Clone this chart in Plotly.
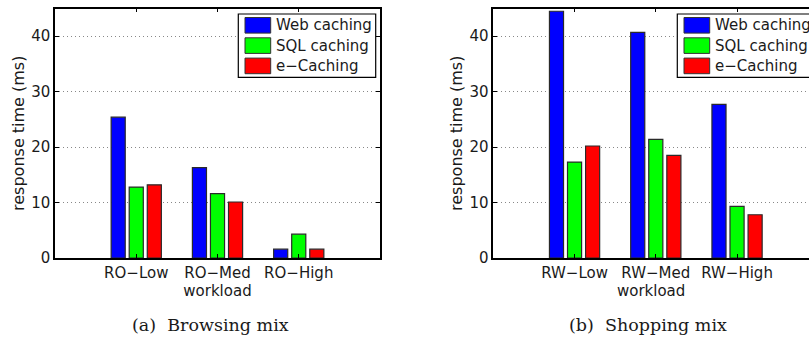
import plotly.graph_objects as go

# ---- data ----
series_names = ["Web caching", "SQL caching", "e\u2212Caching"]
series_colors = ["#0000FF", "#00FF00", "#FF0000"]
browse_cats = ["RO\u2212Low", "RO\u2212Med", "RO\u2212High"]
shop_cats = ["RW\u2212Low", "RW\u2212Med", "RW\u2212High"]
browse_web = [25.4, 16.3, 1.6]
browse_sql = [12.8, 11.6, 4.3]
browse_ecache = [13.2, 10.1, 1.6]
shop_web = [44.5, 40.7, 27.7]
shop_sql = [17.3, 21.4, 9.3]
shop_ecache = [20.2, 18.5, 7.8]
y_ticks = [0, 10, 20, 30, 40]
captions = ["(a)  Browsing mix", "(b)  Shopping mix"]

W, H = 809, 337
FONT = "DejaVu Sans, sans-serif"
TXT = "#1a1a1a"

fig = go.Figure()
x_pos = [1, 2, 3]
for vals, name, col in zip([browse_web, browse_sql, browse_ecache], series_names, series_colors):
    fig.add_trace(go.Bar(x=x_pos, y=vals, name=name, showlegend=False,
                         marker=dict(color=col, line=dict(color="#2a2a2a", width=1.2)),
                         xaxis="x", yaxis="y"))
for vals, name, col in zip([shop_web, shop_sql, shop_ecache], series_names, series_colors):
    fig.add_trace(go.Bar(x=x_pos, y=vals, name=name, showlegend=False,
                         marker=dict(color=col, line=dict(color="#2a2a2a", width=1.2)),
                         xaxis="x2", yaxis="y2"))


def px_x(p):
    return p / W


def px_y(p):
    return 1 - p / H


ydom = [px_y(258), px_y(8.5)]
scale = (380 - 55) / 4.0

common_x = dict(tickmode="array", tickvals=x_pos, ticks="inside", ticklen=4, tickcolor="black",
                showline=True, linecolor="black", linewidth=1.8, showgrid=False, zeroline=False,
                tickfont=dict(family=FONT, size=15, color=TXT),
                title=dict(text="workload", font=dict(family=FONT, size=15, color=TXT), standoff=0))
common_y = dict(range=[0, 45], tickvals=y_ticks, ticks="inside", ticklen=4, tickcolor="black",
                showline=True, linecolor="black", linewidth=1.5, showgrid=True, gridcolor="#888",
                griddash="1px,3px", gridwidth=1, zeroline=False,
                tickfont=dict(family=FONT, size=15, color=TXT),
                title=dict(text="response time (ms)", font=dict(family=FONT, size=16, color=TXT), standoff=3))

# custom legends (box, swatches, labels) in paper coordinates
shapes = []
annotations = []
for box_left in (238.3, 677.3):
    shapes.append(dict(type="rect", xref="paper", yref="paper",
                       x0=px_x(box_left), x1=px_x(box_left + 137.4), y0=px_y(77.3), y1=px_y(14),
                       fillcolor="white", line=dict(color="black", width=1.2), layer="above"))
    for i, (name, col) in enumerate(zip(series_names, series_colors)):
        cy = 25.3 + 20.3 * i
        shapes.append(dict(type="rect", xref="paper", yref="paper",
                           x0=px_x(box_left + 6.7), x1=px_x(box_left + 32.4),
                           y0=px_y(cy + 7.8), y1=px_y(cy - 7.8),
                           fillcolor=col, line=dict(color="#333333", width=1), layer="above"))
        annotations.append(dict(text=name, xref="paper", yref="paper", x=px_x(box_left + 35.5),
                                y=px_y(cy), xanchor="left", yanchor="middle", showarrow=False,
                                font=dict(family=FONT, size=15, color=TXT)))

for cap, cx in zip(captions, (210, 648)):
    annotations.append(dict(text=cap, x=px_x(cx), y=px_y(325), xref="paper", yref="paper",
                            showarrow=False, xanchor="center", yanchor="middle",
                            font=dict(family="DejaVu Serif, serif", size=17.5, color=TXT)))

fig.update_layout(
    width=W, height=H, autosize=False,
    margin=dict(l=0, r=0, t=0, b=0, autoexpand=False),
    paper_bgcolor="white", plot_bgcolor="white",
    barmode="group", bargap=0.333, bargroupgap=0.22,
    xaxis=dict(domain=[px_x(55), px_x(380)], range=[0, 4], ticktext=browse_cats, mirror="ticks",
               anchor="y", **common_x),
    yaxis=dict(domain=ydom, anchor="x", mirror="ticks", **common_y),
    xaxis2=dict(domain=[px_x(493.3), 1.0], range=[0, (809 - 493.3) / scale], ticktext=shop_cats,
                mirror="ticks", anchor="y2", **common_x),
    yaxis2=dict(domain=ydom, anchor="x2", mirror=False, **common_y),
    shapes=shapes,
    annotations=annotations,
)

fig.write_html("out.html")
